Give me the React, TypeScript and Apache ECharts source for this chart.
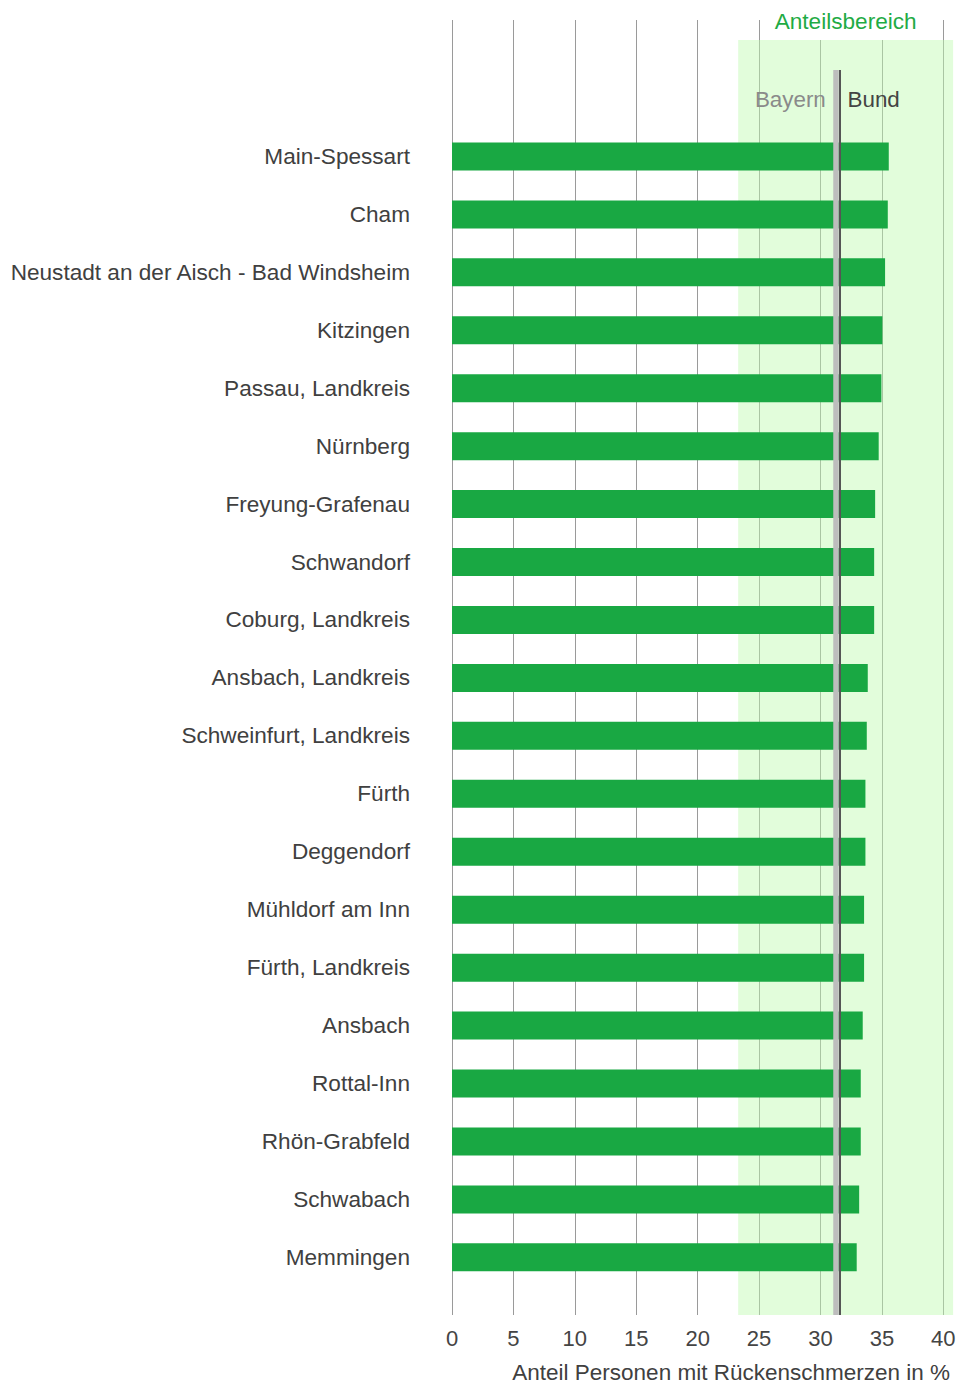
import React, { useEffect, useRef } from "react";
import * as echarts from "echarts";

const categories = [
  "Main-Spessart",
  "Cham",
  "Neustadt an der Aisch - Bad Windsheim",
  "Kitzingen",
  "Passau, Landkreis",
  "Nürnberg",
  "Freyung-Grafenau",
  "Schwandorf",
  "Coburg, Landkreis",
  "Ansbach, Landkreis",
  "Schweinfurt, Landkreis",
  "Fürth",
  "Deggendorf",
  "Mühldorf am Inn",
  "Fürth, Landkreis",
  "Ansbach",
  "Rottal-Inn",
  "Rhön-Grabfeld",
  "Schwabach",
  "Memmingen",
];

const values = [
  35.56, 35.48, 35.26, 35.04, 34.96, 34.74, 34.45, 34.37, 34.37, 33.85,
  33.77, 33.66, 33.66, 33.55, 33.55, 33.44, 33.28, 33.28, 33.15, 32.95,
];

const bayernValue = 31.25;
const bundValue = 31.55;
const bandRange = [23.3, 40.8];
const axisTitle = "Anteil Personen mit Rückenschmerzen in %";
const bandTitle = "Anteilsbereich";
const refLabels = ["Bayern", "Bund"];

export default function App() {
  const ref = useRef<HTMLDivElement>(null);
  useEffect(() => {
    const chart = echarts.init(ref.current!, null, { renderer: "svg", width: 960, height: 1384 });
    const font = "'Liberation Sans', Arial, sans-serif";
    const left = 452;
    const right = 16.7;
    // yAxis 0 scale: 0..1295 (top of grid = 1295)
    const lineTop = 1315 - 70;
    const bandTop = 1315 - 40;
    chart.setOption({
      animation: false,
      textStyle: { fontFamily: font },
      grid: [
        { left, right, top: 20, bottom: 69 },
        { left, right, top: 127.5, height: 1158.8 },
      ],
      xAxis: [
        {
          gridIndex: 0,
          type: "value",
          min: 0,
          max: 40,
          interval: 5,
          axisLine: { show: false },
          axisTick: { show: false },
          axisLabel: { fontSize: 22, color: "#444", margin: 12, fontFamily: font },
          splitLine: { show: true, lineStyle: { color: "#9a9a9a", width: 1 } },
        },
        { gridIndex: 1, type: "value", min: 0, max: 40, show: false },
      ],
      yAxis: [
        { gridIndex: 0, type: "value", min: 0, max: 1295, show: false },
        {
          gridIndex: 1,
          type: "category",
          data: categories,
          inverse: true,
          axisLine: { show: false },
          axisTick: { show: false },
          splitLine: { show: false },
          axisLabel: { fontSize: 22.6, color: "#404040", margin: 42, fontFamily: font },
        },
      ],
      series: [
        {
          type: "bar",
          xAxisIndex: 1,
          yAxisIndex: 1,
          data: values,
          barWidth: 28,
          itemStyle: { color: "#19a843" },
          z: 3,
        },
        {
          type: "scatter",
          xAxisIndex: 0,
          yAxisIndex: 0,
          data: [[0, 0]],
          symbolSize: 0,
          silent: true,
          z: 5,
          markLine: {
            symbol: "none",
            silent: true,
            label: { show: false },
            z: 5,
            data: [
              [
                { coord: [bayernValue, lineTop], lineStyle: { color: "#bdbdbd", width: 5.5, type: "solid" } },
                { coord: [bayernValue, 0] },
              ],
              [
                { coord: [bundValue, lineTop], lineStyle: { color: "#555555", width: 2, type: "solid" } },
                { coord: [bundValue, 0] },
              ],
            ],
          },
        },
      ],
    });

    const p0 = chart.convertToPixel({ gridIndex: 0 }, [bandRange[0], bandTop]) as number[];
    const p1 = chart.convertToPixel({ gridIndex: 0 }, [bandRange[1], 0]) as number[];
    const pb = chart.convertToPixel({ gridIndex: 0 }, [bayernValue, 0]) as number[];
    const pn = chart.convertToPixel({ gridIndex: 0 }, [bundValue, 0]) as number[];
    const cx = (p0[0] + p1[0]) / 2;

    chart.setOption({
      graphic: [
        {
          type: "rect",
          z: 1,
          silent: true,
          shape: { x: p0[0], y: p0[1], width: p1[0] - p0[0], height: p1[1] - p0[1] },
          style: { fill: "rgba(190,250,175,0.45)" },
        },
        {
          type: "rect",
          z: 2,
          silent: true,
          shape: { x: cx - 80, y: 0, width: 160, height: p0[1] },
          style: { fill: "#ffffff" },
        },
        {
          type: "text",
          z: 10,
          x: cx,
          y: 21,
          style: {
            text: bandTitle,
            fill: "#1fab45",
            font: `22.6px ${font}`,
            textAlign: "center",
            textVerticalAlign: "middle",
          },
        },
        {
          type: "text",
          z: 10,
          x: pb[0] - 10,
          y: 99,
          style: {
            text: refLabels[0],
            fill: "#8a8a8a",
            font: `22.4px ${font}`,
            textAlign: "right",
            textVerticalAlign: "middle",
          },
        },
        {
          type: "text",
          z: 10,
          x: pn[0] + 8,
          y: 99,
          style: {
            text: refLabels[1],
            fill: "#444444",
            font: `22.4px ${font}`,
            textAlign: "left",
            textVerticalAlign: "middle",
          },
        },
        {
          type: "text",
          z: 10,
          x: 950,
          y: 1372,
          style: {
            text: axisTitle,
            fill: "#404040",
            font: `22.5px ${font}`,
            textAlign: "right",
            textVerticalAlign: "middle",
          },
        },
      ],
    });

    return () => chart.dispose();
  }, []);
  return (
    <div
      ref={ref}
      style={{ position: "absolute", left: 0, top: 0, width: 960, height: 1384 }}
    />
  );
}
